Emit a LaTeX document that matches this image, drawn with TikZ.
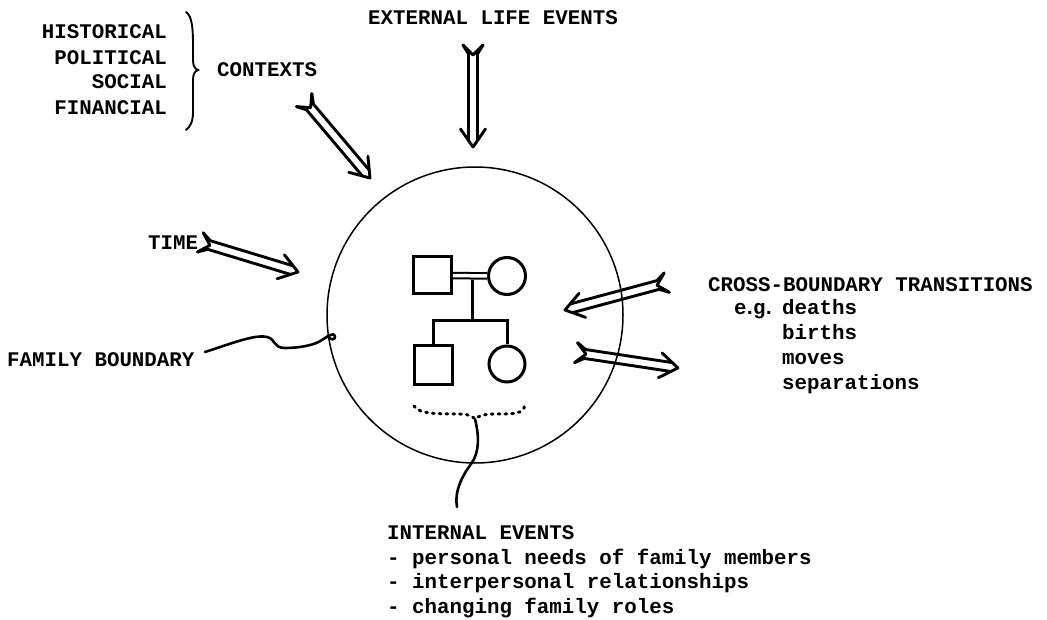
\documentclass[tikz,border=0pt]{standalone}
\usepackage{fontspec}
\setmonofont{Liberation Mono}
\usetikzlibrary{calc}
\tikzset{
  lbl/.style={inner sep=0pt, font=\ttfamily\bfseries\fontsize{20.8}{24}\selectfont},
  harrowline/.style={line width=2.9pt, line cap=round, line join=round},
  geno/.style={draw, line width=3pt, inner sep=0pt},
  gline/.style={line width=3pt, line join=miter},
  hand/.style={line width=2.6pt, line cap=round, line join=round},
  dots/.style={line width=3pt, line cap=round, dash pattern=on 1.8pt off 5pt},
}
\newcommand\hollowarrow[2]{%
  \draw[harrowline] ($(#1)!-9pt!(#2)!10pt!90:(#2)$) -- ($(#1)!4.5pt!90:(#2)$) -- ($(#2)!7pt!(#1)!4.5pt!-90:(#1)$);
  \draw[harrowline] ($(#1)!-9pt!(#2)!10pt!-90:(#2)$) -- ($(#1)!4.5pt!-90:(#2)$) -- ($(#2)!7pt!(#1)!4.5pt!90:(#1)$);
  \draw[harrowline] ($(#1)!-9pt!(#2)!10pt!90:(#2)$) -- ($(#1)!1pt!(#2)$) -- ($(#1)!-9pt!(#2)!10pt!-90:(#2)$);
  \draw[harrowline] ($(#2)!18pt!(#1)!12.5pt!90:(#1)$) -- (#2) -- ($(#2)!18pt!(#1)!12.5pt!-90:(#1)$);
}
\begin{document}
\begin{tikzpicture}[x=1pt,y=-1pt]
\useasboundingbox[fill=white] (0,0) rectangle (1047,620);

% family boundary circle
\node[draw, circle, minimum size=296pt, line width=1.5pt, inner sep=0pt] (fam) at (475,315) {};

% labels
\node[lbl, anchor=base west] (ext) at (368,24.5) {EXTERNAL LIFE EVENTS};
\node[lbl, anchor=base east] (hist) at (167,38.5) {HISTORICAL};
\node[lbl, anchor=base east] (pol) at (167,64.5) {POLITICAL};
\node[lbl, anchor=base east] (soc) at (167,88.5) {SOCIAL};
\node[lbl, anchor=base east] (fin) at (167,114.5) {FINANCIAL};
\node[lbl, anchor=base west] (ctx) at (217,76.5) {CONTEXTS};
\node[lbl, anchor=base west] (time) at (148,249.5) {TIME};
\node[lbl, anchor=base west] (fb) at (7,366.5) {FAMILY BOUNDARY};
\node[lbl, anchor=base west] (cbt) at (708,291.5) {CROSS-BOUNDARY TRANSITIONS};
\node[lbl, anchor=base west] (eg) at (734,314.5) {e\kern-3pt.\kern-3pt g\kern-3pt.};
\node[lbl, anchor=base west] (deaths) at (782,314.5) {deaths};
\node[lbl, anchor=base west] (births) at (782,339.5) {births};
\node[lbl, anchor=base west] (moves) at (782,364.5) {moves};
\node[lbl, anchor=base west] (seps) at (782,389.5) {separations};
\node[lbl, anchor=base west] (ie) at (387,539.5) {INTERNAL EVENTS};
\node[lbl, anchor=base west] (ie1) at (387,564) {- personal needs of family members};
\node[lbl, anchor=base west] (ie2) at (387,588.5) {- interpersonal relationships};
\node[lbl, anchor=base west] (ie3) at (387,613) {- changing family roles};

% brace
\draw[line width=1.9pt, line cap=round] (186,12) .. controls (192,16) and (193,28) .. (193,45) -- (193,60)
  .. controls (193,66) and (195,69) .. (198,70) .. controls (195,71) and (193,74) .. (193,80)
  -- (193,112) .. controls (193,122) and (190,127) .. (186,130);

% hollow arrows
\coordinate (a1s) at (473,54);  \coordinate (a1e) at (473,147);
\coordinate (a2s) at (310,107); \coordinate (a2e) at (370,178);
\coordinate (a3s) at (209,245); \coordinate (a3e) at (298,272);
\coordinate (a4s) at (658,285); \coordinate (a4e) at (565,310);
\coordinate (a5s) at (585,354); \coordinate (a5e) at (678,368);
\hollowarrow{a1s}{a1e}
\hollowarrow{a2s}{a2e}
\hollowarrow{a3s}{a3e}
\hollowarrow{a4s}{a4e}
\hollowarrow{a5s}{a5e}

% family boundary pointer
\coordinate (fbs) at (205,352);
\draw[hand] (fbs) .. controls (230,344) and (255,334) .. (267,337)
  .. controls (276,339) and (273,348) .. (285,348)
  .. controls (300,348) and (315,345) .. (322,340)
  .. controls (328,336) and (334,332) .. (335,336)
  .. controls (336,340) and (330,341) .. (fam.188);

% genogram
\node[geno, minimum width=38pt, minimum height=37pt] (sq1) at (432.5,275.5) {};
\node[geno, circle, minimum size=37pt] (ci1) at (507,276) {};
\node[geno, minimum width=38pt, minimum height=39pt] (sq2) at (433,365) {};
\node[geno, circle, minimum size=36pt] (ci2) at (507,364) {};
\draw[line width=2pt, double, double distance=3.5pt] (sq1.east) -- (ci1.west);
\coordinate (m) at (472,280);
\coordinate (sib) at (472,321);
\draw[gline] (m) -- (sib);
\draw[gline] (sq2.north) |- (ci2.north |- sib) -- (ci2.north);

% internal events brace and pointer
\coordinate (bt) at (475,419);
\draw[dots] (414,406) .. controls (418,414) and (440,414) .. (458,414)
  .. controls (468,414) and (472,416) .. (bt)
  .. controls (478,416) and (484,414) .. (495,414)
  .. controls (515,414) and (523,414) .. (525,405);
\coordinate (iep) at (457,507);
\draw[hand] (bt) .. controls (479,435) and (480,452) .. (471,464)
  .. controls (462,476) and (454,492) .. (iep);
\end{tikzpicture}
\end{document}
